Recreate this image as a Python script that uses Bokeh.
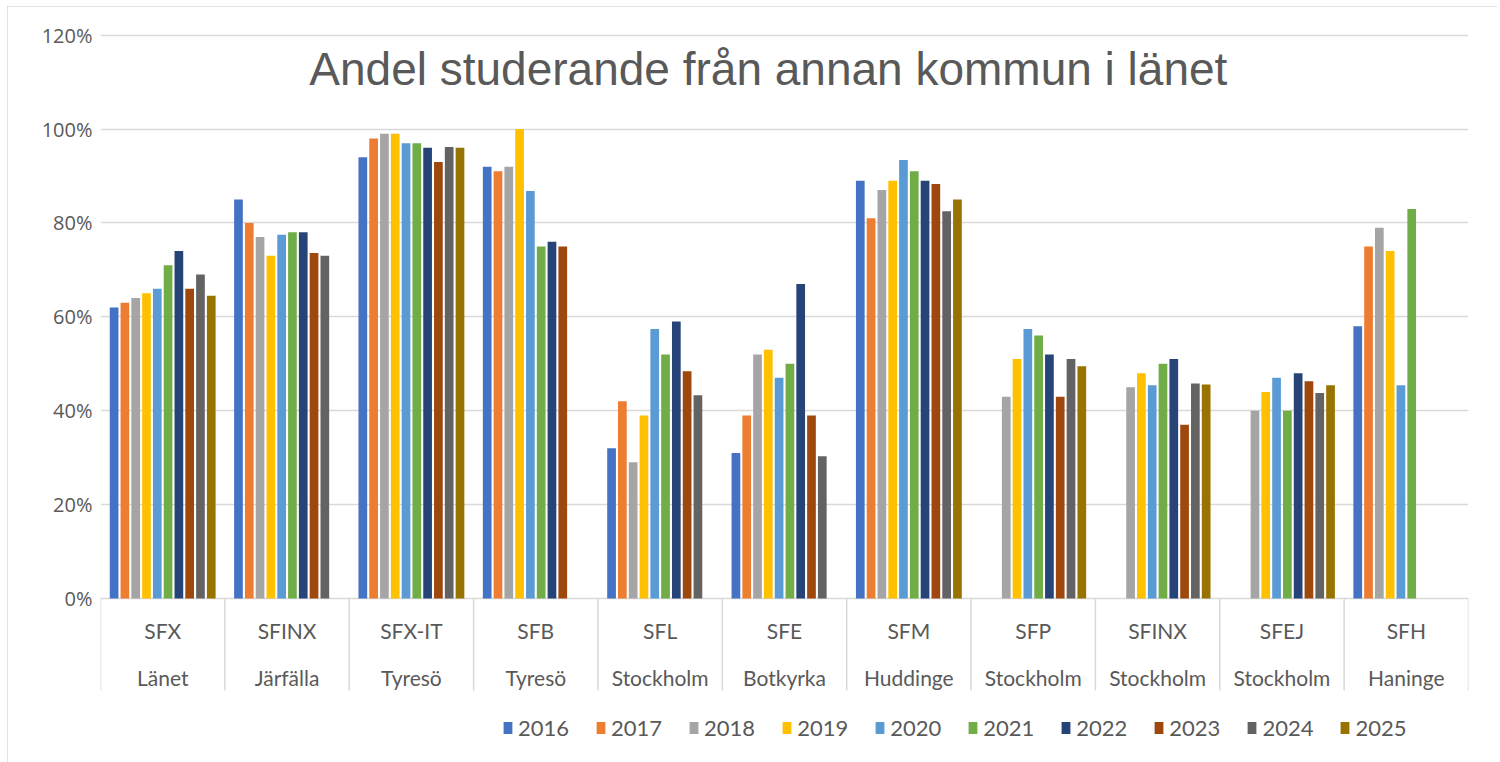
from bokeh.plotting import figure
from bokeh.models import FactorRange, Range1d, FixedTicker, PrintfTickFormatter, ColumnDataSource, Label
from bokeh.transform import dodge
from bokeh.core.properties import value
from bokeh.embed import file_html
from bokeh.resources import INLINE

nan = float("nan")

programs = ["SFX", "SFINX", "SFX-IT", "SFB", "SFL", "SFE", "SFM", "SFP", "SFINX", "SFEJ", "SFH"]
kommuner = ["Länet", "Järfälla", "Tyresö", "Tyresö", "Stockholm", "Botkyrka", "Huddinge",
            "Stockholm", "Stockholm", "Stockholm", "Haninge"]
years = ["2016", "2017", "2018", "2019", "2020", "2021", "2022", "2023", "2024", "2025"]

v2016 = [62, 85, 94, 92, 32, 31, 89, nan, nan, nan, 58]
v2017 = [63, 80, 98, 91, 42, 39, 81, nan, nan, nan, 75]
v2018 = [64, 77, 99, 92, 29, 52, 87, 43, 45, 40, 79]
v2019 = [65, 73, 99, 100, 39, 53, 89, 51, 48, 44, 74]
v2020 = [66, 77.5, 97, 86.8, 57.4, 47, 93.4, 57.4, 45.4, 47, 45.4]
v2021 = [71, 78, 97, 75, 52, 50, 91, 56, 50, 40, 83]
v2022 = [74, 78, 96, 76, 59, 67, 89, 52, 51, 48, nan]
v2023 = [66, 73.6, 93, 75, 48.4, 39, 88.3, 43, 37, 46.3, nan]
v2024 = [69, 73, 96.2, nan, 43.3, 30.3, 82.5, 51, 45.8, 43.8, nan]
v2025 = [64.5, nan, 96, nan, nan, nan, 85, 49.5, 45.6, 45.4, nan]
series = [v2016, v2017, v2018, v2019, v2020, v2021, v2022, v2023, v2024, v2025]

colors = ["#4472C4", "#ED7D31", "#A5A5A5", "#FFC000", "#5B9BD5",
          "#70AD47", "#264478", "#9E480E", "#636363", "#997300"]

y_ticks = [0, 20, 40, 60, 80, 100, 120]
title_text = "Andel studerande från annan kommun i länet"

keys = [f"{a} {b}" for a, b in zip(programs, kommuner)]
TXT = "#595959"
GRID = "#d9d9d9"

p = figure(
    width=1490, height=756,
    x_range=FactorRange(factors=keys, range_padding=0),
    y_range=Range1d(-34.94, 121),
    x_axis_location=None,
    output_backend="svg", toolbar_location=None,
    min_border_left=93, min_border_right=29, min_border_top=24, min_border_bottom=0,
)
p.outline_line_color = None
p.styles = {"margin-left": "7px", "margin-top": "6px",
            "outline": "1px solid #d9d9d9", "outline-offset": "-1px"}

p.xgrid.visible = False
p.yaxis.ticker = FixedTicker(ticks=y_ticks)
p.yaxis.formatter = PrintfTickFormatter(format="%d%%")
p.yaxis.axis_line_color = None
p.yaxis.major_tick_line_color = None
p.yaxis.minor_tick_line_color = None
p.yaxis.major_tick_in = 0
p.yaxis.major_tick_out = 0
p.yaxis.major_label_standoff = 8
p.yaxis.major_label_text_font = "Open Sans"
p.yaxis.major_label_text_font_size = "20px"
p.yaxis.major_label_text_color = TXT
p.ygrid.grid_line_color = GRID
p.ygrid.grid_line_width = 1.5

slot = 0.0868
for j, (yr, vals) in enumerate(zip(years, series)):
    src = ColumnDataSource(dict(x=keys, top=vals))
    p.vbar(x=dodge("x", (j - 4.5) * slot, range=p.x_range), top="top", bottom=0,
           width=0.07, source=src, fill_color=colors[j], line_color=None,
           legend_label=yr)

# category table separators
bounds = list(range(len(keys) + 1))
p.segment(x0=bounds, y0=[0] * len(bounds), x1=bounds, y1=[-19.6] * len(bounds),
          line_color=GRID, line_width=1.5)

p.text(x=keys, y=[-6.8] * len(keys), text=programs, text_font=value("Lato"),
       text_font_size="21px", text_color=TXT, text_align="center", text_baseline="middle")
p.text(x=keys, y=[-16.8] * len(keys), text=kommuner, text_font=value("Lato"),
       text_font_size="21px", text_color=TXT, text_align="center", text_baseline="middle")

p.add_layout(Label(x=5.37, y=112.8, text=title_text, text_font="Liberation Sans",
                   text_font_size="46px", text_color=TXT, text_align="center",
                   text_baseline="alphabetic"))

lg = p.legend[0]
lg.orientation = "horizontal"
lg.location = (402, 21)
lg.label_text_font = "Lato"
lg.label_text_font_size = "22px"
lg.label_text_color = TXT
lg.glyph_width = 11
lg.glyph_height = 15
lg.label_standoff = 5
lg.spacing = 26
lg.padding = 5
lg.margin = 0
lg.border_line_color = None
lg.background_fill_alpha = 0

open("out.html", "w").write(file_html(p, INLINE))
